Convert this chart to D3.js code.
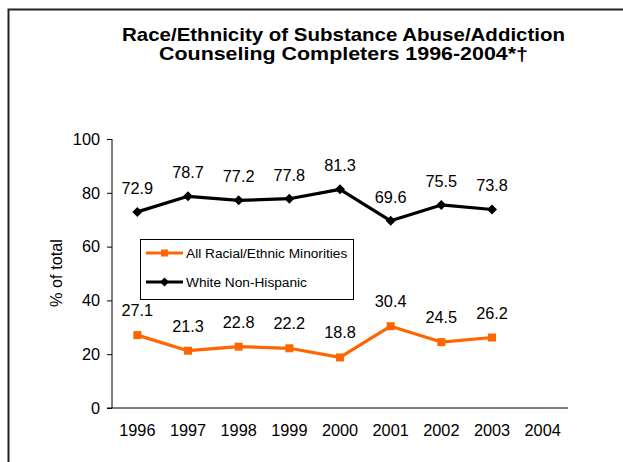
<!DOCTYPE html>
<html><head><meta charset="utf-8">
<script src="https://cdn.jsdelivr.net/npm/d3@7"></script>
<style>
html,body{margin:0;padding:0;background:#fff;}
svg{display:block;font-family:"Liberation Sans",Arial,sans-serif;}
</style></head>
<body>
<svg id="chart" width="623" height="462"></svg>
<script>
const years = ["1996","1997","1998","1999","2000","2001","2002","2003","2004"];
const minorities = [27.1,21.3,22.8,22.2,18.8,30.4,24.5,26.2];
const white = [72.9,78.7,77.2,77.8,81.3,69.6,75.5,73.8];
const yTicks = [0,20,40,60,80,100];
const seriesNames = ["All Racial/Ethnic Minorities","White Non-Hispanic"];
const titleLines = ["Race/Ethnicity of Substance Abuse/Addiction","Counseling Completers 1996-2004*\u2020"];

const FONT = "Liberation Sans, Arial, sans-serif";
const svg = d3.select("#chart");
// outer frame
svg.append("rect").attr("x",8.5).attr("y",9.5).attr("width",700).attr("height",600)
  .attr("fill","none").attr("stroke","#222").attr("stroke-width",2);

const x = d3.scaleBand().domain(years).range([112,568]).padding(0);
const y = d3.scaleLinear().domain([0,100]).range([408,139]);

// title
svg.append("text").attr("x",343.5).attr("y",41).attr("text-anchor","middle")
  .attr("font-size",19).attr("font-weight","bold")
  .attr("textLength",443).attr("lengthAdjust","spacingAndGlyphs").text(titleLines[0]);
svg.append("text").attr("x",343.5).attr("y",60).attr("text-anchor","middle")
  .attr("font-size",19).attr("font-weight","bold")
  .attr("textLength",369).attr("lengthAdjust","spacingAndGlyphs").text(titleLines[1]);

// y axis
const ya = svg.append("g").attr("transform","translate(112,0)")
  .call(d3.axisLeft(y).tickValues(yTicks).tickSize(5).tickPadding(7));
ya.attr("font-size",null).attr("font-family",null);
ya.selectAll("text").attr("font-size",16.3).attr("fill","#000").attr("font-family",FONT);
ya.selectAll("line,path").attr("stroke","#000");
ya.select("path").attr("d","M0,"+y(100)+"V"+y(0));

// x axis
const xa = svg.append("g").attr("transform","translate(0,408)")
  .call(d3.axisBottom(x).tickSize(0).tickPadding(16));
xa.attr("font-size",null).attr("font-family",null);
xa.selectAll("text").attr("font-size",16.3).attr("fill","#000").attr("font-family",FONT);
xa.select("path").attr("stroke","#000").attr("d","M107,0H568");

// y title
svg.append("text").attr("transform","translate(62,273) rotate(-90)").attr("text-anchor","middle")
  .attr("font-size",16.3).text("% of total");

const cx = (i)=> x(years[i]) + x.bandwidth()/2;
const line = d3.line().x((d,i)=>cx(i)).y(d=>y(d));

const orange = "#FF6600";
// minorities
svg.append("path").datum(minorities).attr("d",line).attr("fill","none")
  .attr("stroke",orange).attr("stroke-width",3.2).attr("stroke-linejoin","round");
svg.selectAll(".sq").data(minorities).enter().append("rect")
  .attr("x",(d,i)=>cx(i)-4).attr("y",d=>y(d)-4).attr("width",8).attr("height",8).attr("fill",orange);
svg.selectAll(".ml").data(minorities).enter().append("text")
  .attr("x",(d,i)=>cx(i)).attr("y",d=>y(d)-19).attr("text-anchor","middle").attr("font-size",16.3)
  .text(d=>d.toFixed(1));

// white
svg.append("path").datum(white).attr("d",line).attr("fill","none")
  .attr("stroke","#000").attr("stroke-width",3.2).attr("stroke-linejoin","round");
svg.selectAll(".dm").data(white).enter().append("path")
  .attr("d",(d,i)=>{const X=cx(i),Y=y(d);return `M${X},${Y-5}L${X+5},${Y}L${X},${Y+5}L${X-5},${Y}Z`;})
  .attr("fill","#000");
svg.selectAll(".wl").data(white).enter().append("text")
  .attr("x",(d,i)=>cx(i)).attr("y",d=>y(d)-18).attr("text-anchor","middle").attr("font-size",16.3)
  .text(d=>d.toFixed(1));

// legend
const lg = svg.append("g");
lg.append("rect").attr("x",140.5).attr("y",239.5).attr("width",213).attr("height",60)
  .attr("fill","#fff").attr("stroke","#000").attr("stroke-width",1);
const rows = [{c:orange,m:"sq",yy:253},{c:"#000",m:"dm",yy:282}];
rows.forEach((r,i)=>{
  lg.append("line").attr("x1",146).attr("x2",183).attr("y1",r.yy).attr("y2",r.yy)
    .attr("stroke",r.c).attr("stroke-width",3.2);
  const mx=164.5;
  if(r.m==="sq") lg.append("rect").attr("x",mx-3.5).attr("y",r.yy-3.5).attr("width",7).attr("height",7).attr("fill",r.c);
  else lg.append("path").attr("d",`M${mx},${r.yy-4.5}L${mx+4.5},${r.yy}L${mx},${r.yy+4.5}L${mx-4.5},${r.yy}Z`).attr("fill",r.c);
  lg.append("text").attr("x",186).attr("y",r.yy+5).attr("font-size",13.7).text(seriesNames[i]);
});
</script>
</body></html>
